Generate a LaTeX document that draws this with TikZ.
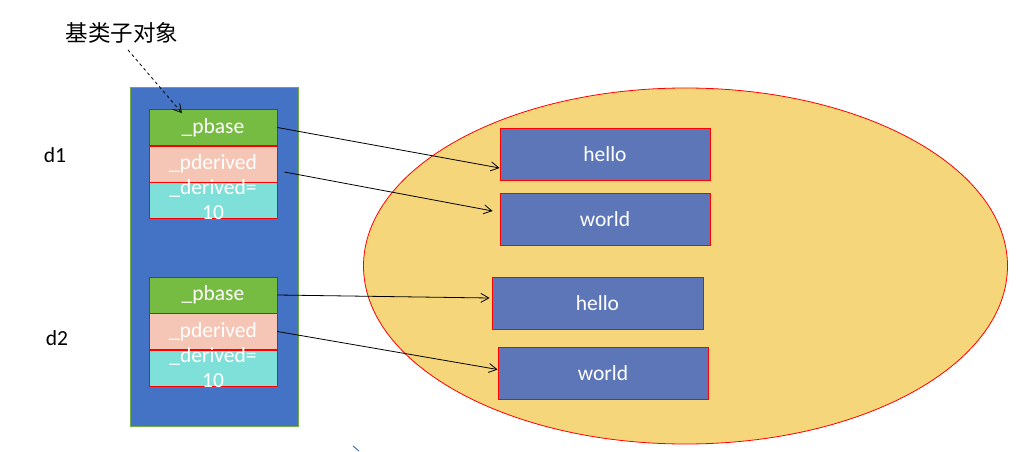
\documentclass[tikz,border=0pt]{standalone}
\usepackage{fontspec}
\setmainfont{Carlito}
\newfontfamily\cjk{Noto Sans CJK SC}
\usetikzlibrary{shapes.geometric, arrows.meta}

\definecolor{objblue}{HTML}{4472C4}
\definecolor{objgreen}{HTML}{70AD47}
\definecolor{basegreen}{HTML}{77BC42}
\definecolor{derpink}{HTML}{F5C6B6}
\definecolor{dercyan}{HTML}{7FE0D9}
\definecolor{heapgold}{HTML}{F5D67B}
\definecolor{strblue}{HTML}{5D76B8}

\tikzset{
  field/.style={draw=red, line width=0.8pt, minimum width=128pt, minimum height=36pt, inner sep=0pt, text=white, font=\fontsize{21.5}{24}\selectfont},
  strbox/.style={draw=red, line width=0.8pt, fill=strblue, minimum width=210pt, minimum height=52pt, inner sep=0pt, text=white, font=\fontsize{21.5}{24}\selectfont},
  plain/.style={font=\fontsize{21.5}{24}\selectfont},
  ptr/.style={-{Straight Barb[length=8pt, width=9pt]}, line width=0.8pt}
}

\begin{document}
\begin{tikzpicture}[x=1pt, y=-1pt]
      \useasboundingbox (0,0) rectangle (1021,452);

      % heap
      \node[ellipse, draw=red, line width=0.8pt, fill=heapgold, minimum width=644pt, minimum height=356pt, inner sep=0pt] (heap) at (685.5,266) {};
      \node[strbox] (h1) at (605,154) {hello};
      \node[strbox] (w1) at (605,219) {world};
      \node[strbox, minimum width=211pt] (h2) at (597.5,303) {hello};
      \node[strbox] (w2) at (603,373.5) {world};

      % objects on the stack
      \node[draw=objgreen, line width=1pt, fill=objblue, minimum width=168pt, minimum height=338pt, inner sep=0pt] (obj) at (214,257) {};

      \node[field, fill=basegreen] (pb1) at (213,127.5) {\_pbase};
      \node[field, fill=derpink] (pd1) at (213,164) {\_pderived};
      \node[field, fill=dercyan, label={[text=white, align=center, font=\fontsize{21.5}{25}\selectfont]center:{\_derived=\\10}}] (dv1) at (213,200) {};

      \node[field, fill=basegreen] (pb2) at (213,295) {\_pbase};
      \node[field, fill=derpink] (pd2) at (213,331.5) {\_pderived};
      \node[field, fill=dercyan, label={[text=white, align=center, font=\fontsize{21.5}{25}\selectfont]center:{\_derived=\\10}}] (dv2) at (213,368) {};

      \node[plain] (d1) at (55,155) {d1};
      \node[plain] (d2) at (57,338) {d2};
      \node[font=\cjk\fontsize{22.5}{26}\selectfont] (base) at (122,33) {基类子对象};

      % pointers
      \draw[ptr, dashed] ([xshift=6pt,yshift=-3pt]base.south) -- ([xshift=-31pt,yshift=-4pt]pb1.north);
      \draw[ptr] (pb1.east) -- ([yshift=-14pt]h1.west);
      \draw[ptr] ([xshift=7pt,yshift=-8pt]pd1.east) -- ([xshift=-7pt,yshift=8pt]w1.west);
      \draw[ptr] (pb2.east) -- ([xshift=-2pt,yshift=5pt]h2.west);
      \draw[ptr] (pd2.east) -- ([yshift=4pt]w2.west);

      \draw[objblue, line width=1pt] (353,446) -- (359,451);
\end{tikzpicture}
\end{document}
